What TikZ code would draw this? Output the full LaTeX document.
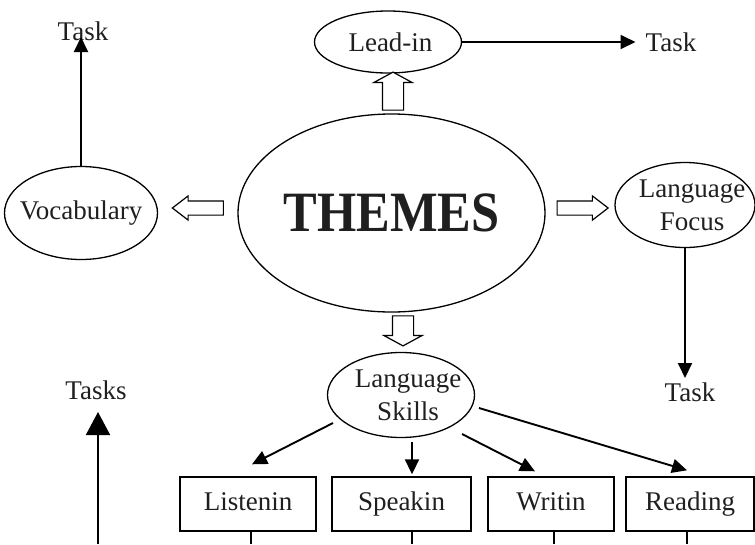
\documentclass[tikz,border=0pt]{standalone}
\usepackage{fontspec}
\setmainfont{Liberation Serif}
\usetikzlibrary{arrows.meta,shapes.geometric,shapes.arrows,calc}

\begin{document}
\begin{tikzpicture}[x=1pt,y=1pt,
  every node/.style={font=\fontsize{27}{33}\selectfont, text=black!88},
  oval/.style={draw, ellipse, line width=1.3pt, inner sep=-12pt, align=center},
  skillbox/.style={draw, rectangle, line width=1.4pt, minimum height=54pt,
    inner sep=0pt, text height=18pt, text depth=6pt},
  label/.style={inner sep=0pt},
  arr/.style={line width=1.9pt, -{Triangle[length=15pt,width=14pt]}},
  bigarr/.style={line width=1.9pt, -{Triangle[length=23pt,width=24pt]}},
  openarrow/.style={draw, single arrow, line width=1.2pt, fill=white,
    single arrow head indent=0pt},
  stem/.style={line width=1.3pt}
]
\useasboundingbox (0,0) rectangle (755,-544);

% central theme and the four satellites
\node[oval, minimum width=307pt, minimum height=198pt] (themes) at (391.5,-213)
  {\fontsize{57}{62}\selectfont\bfseries\scalebox{0.885}[1]{THEMES}};
\node[oval, minimum width=153pt, minimum height=93pt] (vocab) at (81,-213) {Vocabulary};
\node[oval, minimum width=147pt, minimum height=62pt] (lead) at (388,-42) {\hspace*{5pt}Lead-in};
\node[oval, minimum width=140pt, minimum height=85pt] (focus) at (685,-205)
  {\hspace*{14pt}Language\\\hspace*{14pt}Focus};
\node[oval, minimum width=147pt, minimum height=85pt] (skills) at (401,-395)
  {\hspace*{14pt}Language\\\hspace*{14pt}Skills};

% hollow block arrows out of the theme
\node[openarrow, minimum height=51pt, minimum width=23pt, inner sep=6.5pt,
  single arrow head extend=5pt, single arrow tip angle=75, rotate=180] (aw) at (202.5,-208) {};
\node[openarrow, minimum height=51pt, minimum width=23pt, inner sep=6.5pt,
  single arrow head extend=5pt, single arrow tip angle=75] (ae) at (578,-208) {};
\node[openarrow, minimum height=38pt, minimum width=37pt, inner sep=10pt,
  single arrow head extend=8.5pt, single arrow tip angle=123, rotate=90] (an) at (393,-94) {};
\node[openarrow, minimum height=30pt, minimum width=37pt, inner sep=10pt,
  single arrow head extend=8.5pt, single arrow tip angle=123, rotate=-90] (as) at (403,-328) {};

% task labels
\node[label] (task1) at (83,-31) {Task};
\node[label] (task2) at (671,-42) {Task};
\node[label] (task3) at (690,-392) {Task};
\node[label] (tasks) at (96,-390) {Tasks};

% skill boxes
\node[skillbox, minimum width=136pt] (lis) at (248,-504) {Listenin};
\node[skillbox, minimum width=139pt] (spk) at (401.5,-504) {Speakin};
\node[skillbox, minimum width=126pt] (wri) at (551,-504) {Writin};
\node[skillbox, minimum width=128pt] (rea) at (690,-504) {Reading};

% stems running down from the boxes
\coordinate (s1) at (251,-544);
\coordinate (s2) at (412,-544);
\coordinate (s3) at (554,-544);
\coordinate (s4) at (687,-544);
\draw[stem] (s1 |- lis.south) -- (s1);
\draw[stem] (s2 |- spk.south) -- (s2);
\draw[stem] (s3 |- wri.south) -- (s3);
\draw[stem] (s4 |- rea.south) -- (s4);

% arrows to the tasks
\draw[arr] (vocab.north) -- ([yshift=-6pt]vocab.north |- task1.center);
\draw[arr] (lead.east) -- ([xshift=-10pt]task2.west);
\draw[arr] (focus.south) -- ([yshift=14pt]focus.south |- task3.center);
\coordinate (tb) at (98,-544);
\draw[bigarr] (tb) -- ([yshift=-22pt]tb |- tasks.center);

% arrows from the skills to the boxes
\draw[arr] ($(skills.center)+(-68,-28)$) -- ([xshift=4pt,yshift=12pt]lis.north);
\draw[arr] ($(skills.center)+(11,-47)$) -- ([xshift=10.5pt,yshift=2pt]spk.north);
\draw[arr] ($(skills.center)+(61,-39)$) -- ([xshift=-16pt,yshift=5pt]wri.north);
\draw[arr] ($(skills.center)+(78,-13)$) -- ([xshift=-3pt,yshift=6pt]rea.north);
\end{tikzpicture}
\end{document}
